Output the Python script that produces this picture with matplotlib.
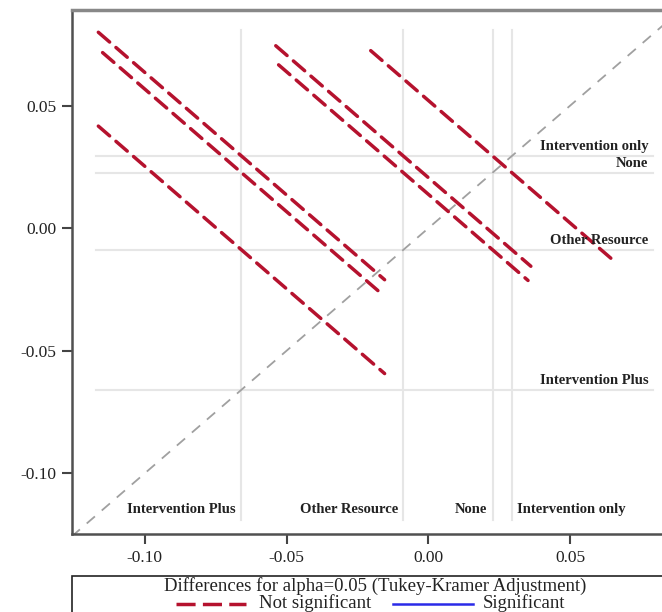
import matplotlib
matplotlib.use('Agg')
import matplotlib.pyplot as plt
from matplotlib.lines import Line2D
from matplotlib.patches import Rectangle

plt.rcParams['font.family'] = ['Liberation Serif', 'DejaVu Serif']

# LS means of the four groups
groups = ['Intervention Plus', 'Other Resource', 'None', 'Intervention only']
lsmeans = [-0.0659, -0.0088, 0.0227, 0.0295]

# pairwise comparisons: (x group, y group, CI half width of difference)
pair_x = [0, 0, 0, 1, 1, 2]
pair_y = [3, 2, 1, 3, 2, 3]
halfwidth = [0.101, 0.098, 0.101, 0.090, 0.088, 0.086]

xlim = (-0.1258, 0.0891)
ylim = (-0.1249, 0.0891)
xticks = [-0.10, -0.05, 0.00, 0.05]
yticks = [-0.10, -0.05, 0.00, 0.05]

red = '#b5122e'
blue = '#2a2ae8'

fig = plt.figure(figsize=(6.62, 6.12), dpi=100)
ax = fig.add_axes([0.1083, 0.127, 0.9201, 0.8567])
ax.set_xlim(*xlim)
ax.set_ylim(*ylim)

# reference grid lines at the LS means
gx0, gx1 = xlim[0] + 0.0085, xlim[1] - 0.0098
gy0, gy1 = ylim[0] + 0.0058, ylim[1] - 0.0082
for m in lsmeans:
    ax.plot([m, m], [gy0, gy1], color='#e6e6e6', lw=1.5, zorder=1)
    ax.plot([gx0, gx1], [m, m], color='#e6e6e6', lw=1.5, zorder=1)

# diagonal
ax.plot([xlim[0], xlim[1]], [xlim[0], xlim[1]], color='#a0a0a0', lw=1.3,
        linestyle=(0, (6, 5)), zorder=2)

# diffogram segments
for i, j, hw in zip(pair_x, pair_y, halfwidth):
    xi, yj = lsmeans[i], lsmeans[j]
    ax.plot([xi - hw / 2, xi + hw / 2], [yj + hw / 2, yj - hw / 2],
            color=red, lw=2.5, linestyle=(0, (4.3, 2.4)),
            dash_capstyle='round', zorder=3)

# group labels along bottom
lab_y = ylim[0] + 0.0100
for k, (g, m) in enumerate(zip(groups, lsmeans)):
    if k == len(groups) - 1:
        ax.annotate(g, (m, lab_y), xytext=(4, 0), textcoords='offset points',
                    ha='left', va='center', fontsize=10.5, fontweight='bold', color='#222222')
    else:
        ax.annotate(g, (m, lab_y), xytext=(-4, 0), textcoords='offset points',
                    ha='right', va='center', fontsize=10.5, fontweight='bold', color='#222222')

# group labels on the right
lab_x = xlim[1] - 0.0115
for g, m in zip(groups, lsmeans):
    ax.annotate(g, (lab_x, m), xytext=(0, 6.5), textcoords='offset points',
                ha='right', va='center', fontsize=10.5, fontweight='bold', color='#222222')

ax.set_xticks(xticks)
ax.set_yticks(yticks)
ax.set_xticklabels(['%.2f' % t for t in xticks])
ax.set_yticklabels(['%.2f' % t for t in yticks])
ax.tick_params(direction='out', length=7, width=1.5, colors='#444444',
               labelsize=12.5, labelcolor='#222222', pad=4)
for s in ['left', 'bottom']:
    ax.spines[s].set_color('#505050')
    ax.spines[s].set_linewidth(1.8)
ax.spines['top'].set_color('#888888')
ax.spines['top'].set_linewidth(2.5)
ax.spines['right'].set_color('#505050')

# legend box drawn below the axes
W, H = 662.0, 612.0
fig.add_artist(Rectangle((71.5 / W, -0.05), 1.0, (612 - 575.7) / H + 0.05,
                         transform=fig.transFigure, fill=False,
                         edgecolor='#222222', lw=1.2))
fig.text(375 / W, 1 - 586 / H, 'Differences for alpha=0.05 (Tukey-Kramer Adjustment)',
         ha='center', va='center', fontsize=13.5, color='#222222')
ly = 1 - 603.5 / H
fig.add_artist(Line2D([176 / W, 246 / W], [ly, ly], transform=fig.transFigure,
                      color=red, lw=2.5, linestyle=(0, (5.5, 2.1))))
fig.text(259 / W, ly, 'Not significant', ha='left', va='center', fontsize=13.5, color='#222222')
fig.add_artist(Line2D([393 / W, 473 / W], [ly, ly], transform=fig.transFigure,
                      color=blue, lw=1.8))
fig.text(483 / W, ly, 'Significant', ha='left', va='center', fontsize=13.5, color='#222222')

fig.savefig('out.png', dpi=100)
